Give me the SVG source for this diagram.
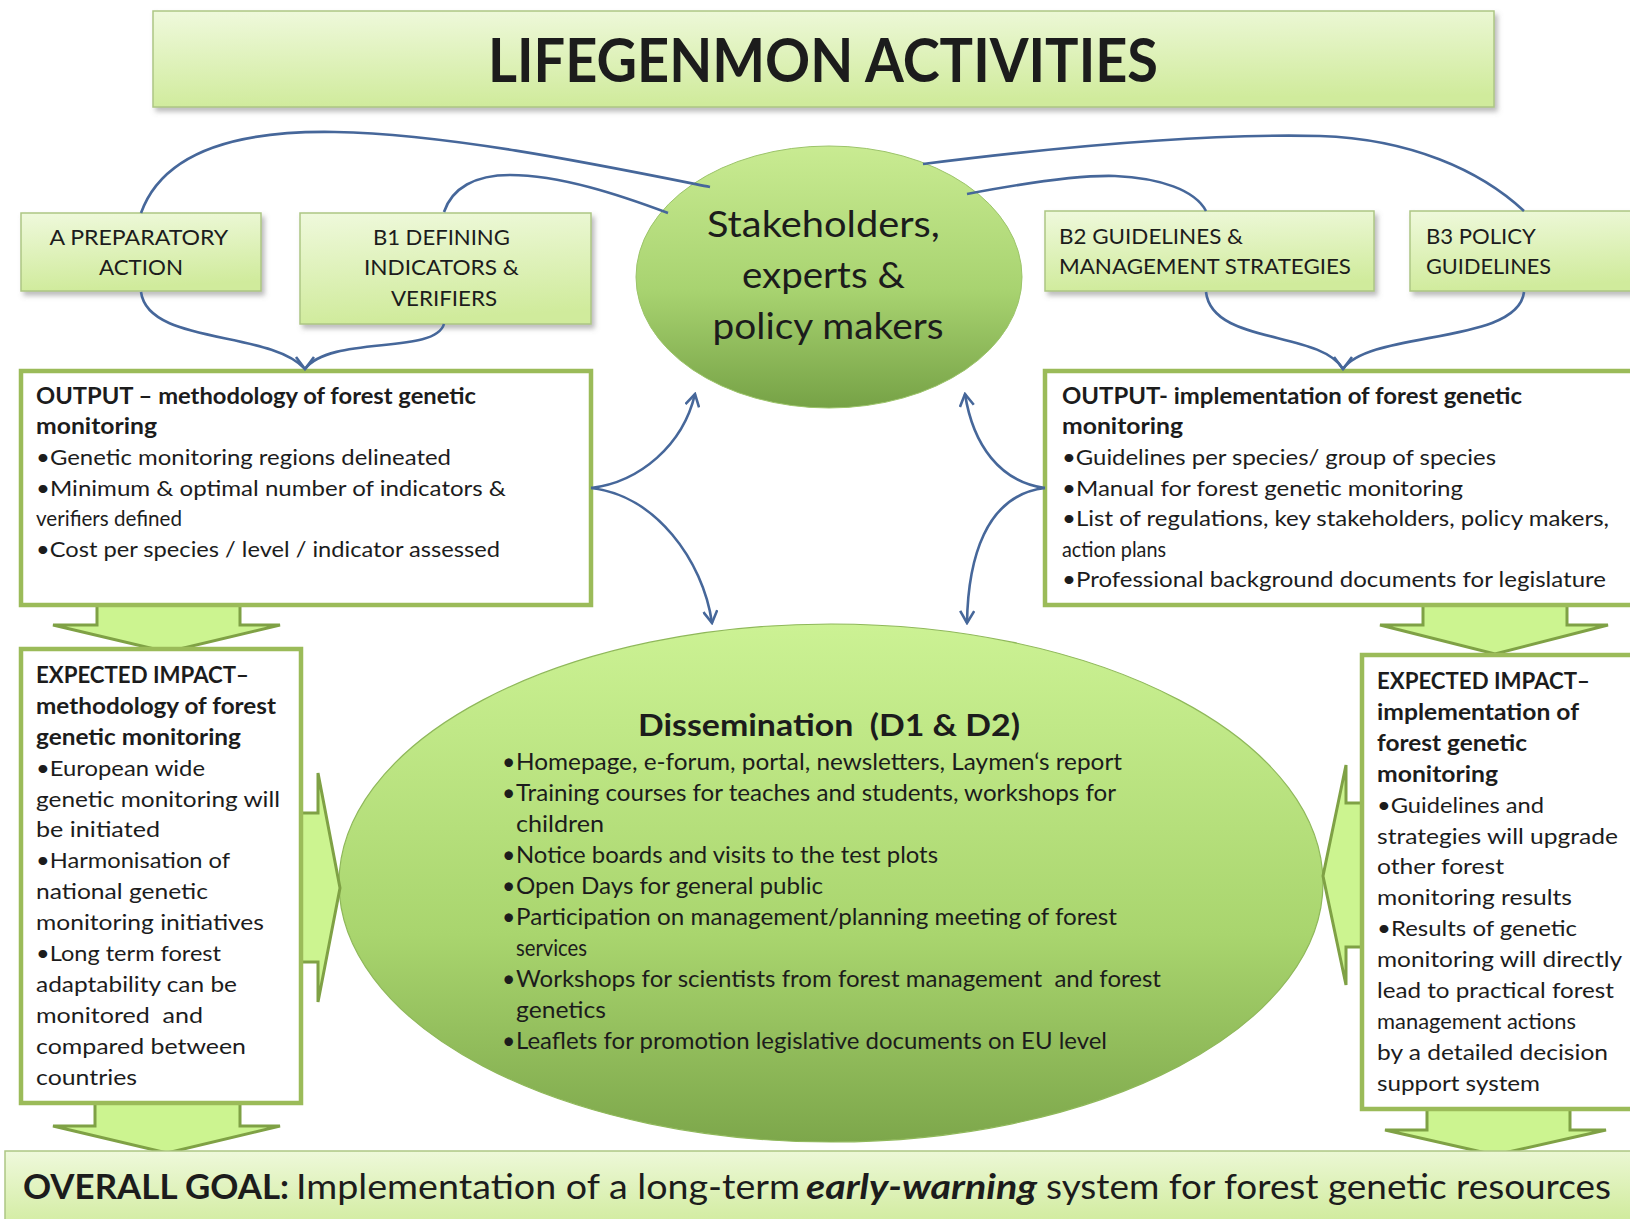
<svg xmlns="http://www.w3.org/2000/svg" width="1630" height="1219" viewBox="0 0 1630 1219">
<defs>
  <linearGradient id="gBox" x1="0" y1="0" x2="0.15" y2="1">
    <stop offset="0" stop-color="#eff9dc"/>
    <stop offset="1" stop-color="#d0eb9c"/>
  </linearGradient>
  <linearGradient id="gStake" x1="0" y1="0" x2="0" y2="1">
    <stop offset="0" stop-color="#c9eb92"/>
    <stop offset="0.55" stop-color="#a8d370"/>
    <stop offset="1" stop-color="#76a246"/>
  </linearGradient>
  <linearGradient id="gDiss" x1="0" y1="0" x2="0" y2="1">
    <stop offset="0" stop-color="#ccf294"/>
    <stop offset="0.6" stop-color="#a9d56e"/>
    <stop offset="1" stop-color="#7da74b"/>
  </linearGradient>
  <filter id="sh" x="-5%" y="-10%" width="115%" height="135%">
    <feDropShadow dx="3" dy="4" stdDeviation="2.5" flood-color="#7a7a7a" flood-opacity="0.5"/>
  </filter>
  <marker id="ah" viewBox="0 0 16 16" refX="14" refY="8" markerWidth="16" markerHeight="16" markerUnits="userSpaceOnUse" orient="auto">
    <path d="M2,1 L14,8 L2,15" fill="none" stroke="#46679a" stroke-width="2.6"/>
  </marker>
</defs>
<style>
  .t{font-family:Lato,'Open Sans','Liberation Sans',sans-serif;fill:#1c1c1c}
  .b{font-weight:bold}
  .lbl{font-size:20.5px}
  .body{font-size:22px}
  .dis{font-size:23px}
  .con{fill:none;stroke:#46679a;stroke-width:2.6}
  .lb{fill:url(#gBox);stroke:#adc684;stroke-width:1.5}
  .wb{fill:#fff;stroke:#9bbb59;stroke-width:4.5}
  .blk{fill:#ccf490;stroke:#7fa145;stroke-width:3;stroke-linejoin:miter}
</style>
<rect width="1630" height="1219" fill="#ffffff"/>

<g id="title">
  <rect x="153" y="11" width="1341" height="96" class="lb" filter="url(#sh)"/>
  <text x="823" y="82" text-anchor="middle" class="t b" font-size="62" textLength="670" lengthAdjust="spacingAndGlyphs">LIFEGENMON ACTIVITIES</text>
</g>

<g id="stakeholders">
  <ellipse cx="829" cy="277" rx="193" ry="131" fill="url(#gStake)" stroke="#9cc46a" stroke-width="1"/>
  <text class="t" font-size="36" text-anchor="middle">
    <tspan x="828" y="237" textLength="233" lengthAdjust="spacingAndGlyphs">Stakeholders,</tspan>
    <tspan x="828" y="288" textLength="163" lengthAdjust="spacingAndGlyphs">experts &amp;</tspan>
    <tspan x="828" y="339" textLength="231" lengthAdjust="spacingAndGlyphs">policy makers</tspan>
  </text>
</g>

<g id="dissemination">
  <ellipse cx="831" cy="883" rx="492" ry="259" fill="url(#gDiss)" stroke="#8fb85a" stroke-width="1.2"/>
  <text x="829" y="736" text-anchor="middle" class="t b" font-size="31" textLength="382" lengthAdjust="spacingAndGlyphs" xml:space="preserve">Dissemination  (D1 &amp; D2)</text>
  <g class="t dis">
    <text x="502" y="770">•</text><text x="516" y="770" textLength="606" lengthAdjust="spacingAndGlyphs">Homepage, e-forum, portal, newsletters, Laymen‘s report</text>
    <text x="502" y="801">•</text><text x="516" y="801" textLength="600" lengthAdjust="spacingAndGlyphs">Training courses for teaches and students, workshops for</text>
    <text x="516" y="832" textLength="88" lengthAdjust="spacingAndGlyphs">children</text>
    <text x="502" y="863">•</text><text x="516" y="863" textLength="422" lengthAdjust="spacingAndGlyphs">Notice boards and visits to the test plots</text>
    <text x="502" y="894">•</text><text x="516" y="894" textLength="307" lengthAdjust="spacingAndGlyphs">Open Days for general public</text>
    <text x="502" y="925">•</text><text x="516" y="925" textLength="601" lengthAdjust="spacingAndGlyphs">Participation on management/planning meeting of forest</text>
    <text x="516" y="956" textLength="71" lengthAdjust="spacingAndGlyphs">services</text>
    <text x="502" y="987">•</text><text x="516" y="987" textLength="645" lengthAdjust="spacingAndGlyphs" xml:space="preserve">Workshops for scientists from forest management  and forest</text>
    <text x="516" y="1018" textLength="90" lengthAdjust="spacingAndGlyphs">genetics</text>
    <text x="502" y="1049">•</text><text x="516" y="1049" textLength="591" lengthAdjust="spacingAndGlyphs">Leaflets for promotion legislative documents on EU level</text>
  </g>
</g>

<g id="block-arrows">
  <path class="blk" d="M97,603 L240,603 L240,625 L280,625 L167,652 L53,625 L97,625 Z"/>
  <path class="blk" d="M1423,603 L1567,603 L1567,625 L1608,625 L1495,654 L1380,625 L1423,625 Z"/>
  <path class="blk" d="M95,1101 L240,1101 L240,1126 L280,1126 L167,1153 L53,1126 L95,1126 Z"/>
  <path class="blk" d="M1427,1108 L1570,1108 L1570,1130 L1606,1130 L1495,1155 L1385,1130 L1427,1130 Z"/>
  <path class="blk" d="M300,813 L318,813 L318,773 L340,888 L318,1002 L318,962 L300,962 Z"/>
  <path class="blk" d="M1364,803 L1346,803 L1346,765 L1323,876 L1346,985 L1346,947 L1364,947 Z"/>
</g>

<g id="a-preparatory">
  <rect x="21" y="213" width="240" height="78" class="lb" filter="url(#sh)"/>
  <text class="t lbl" text-anchor="middle">
    <tspan x="141" y="245" textLength="178" lengthAdjust="spacingAndGlyphs">A PREPARATORY</tspan>
    <tspan x="141" y="275" textLength="84" lengthAdjust="spacingAndGlyphs">ACTION</tspan>
  </text>
</g>

<g id="b1-defining">
  <rect x="300" y="213" width="291" height="111" class="lb" filter="url(#sh)"/>
  <text class="t lbl" text-anchor="middle">
    <tspan x="444" y="245" textLength="137" lengthAdjust="spacingAndGlyphs">B1 DEFINING</tspan>
    <tspan x="444" y="275" textLength="155" lengthAdjust="spacingAndGlyphs">INDICATORS &amp;</tspan>
    <tspan x="444" y="306" textLength="106" lengthAdjust="spacingAndGlyphs">VERIFIERS</tspan>
  </text>
</g>

<g id="b2-guidelines">
  <rect x="1045" y="211" width="329" height="80" class="lb" filter="url(#sh)"/>
  <text class="t lbl">
    <tspan x="1059" y="244" textLength="184" lengthAdjust="spacingAndGlyphs">B2 GUIDELINES &amp;</tspan>
    <tspan x="1059" y="274" textLength="292" lengthAdjust="spacingAndGlyphs">MANAGEMENT STRATEGIES</tspan>
  </text>
</g>

<g id="b3-policy">
  <rect x="1410" y="211" width="240" height="80" class="lb" filter="url(#sh)"/>
  <text class="t lbl">
    <tspan x="1426" y="244" textLength="109" lengthAdjust="spacingAndGlyphs">B3 POLICY</tspan>
    <tspan x="1426" y="274" textLength="125" lengthAdjust="spacingAndGlyphs">GUIDELINES</tspan>
  </text>
</g>

<g id="output-left">
  <rect x="21" y="371" width="570" height="234" class="wb"/>
  <g class="t body">
    <text x="36" y="404" class="b" textLength="440" lengthAdjust="spacingAndGlyphs">OUTPUT – methodology of forest genetic</text>
    <text x="36" y="434" class="b" textLength="121" lengthAdjust="spacingAndGlyphs">monitoring</text>
    <text x="36" y="465" textLength="415" lengthAdjust="spacingAndGlyphs">•Genetic monitoring regions delineated</text>
    <text x="36" y="496" textLength="470" lengthAdjust="spacingAndGlyphs">•Minimum &amp; optimal number of indicators &amp;</text>
    <text x="36" y="526" textLength="146" lengthAdjust="spacingAndGlyphs">verifiers defined</text>
    <text x="36" y="557" textLength="464" lengthAdjust="spacingAndGlyphs">•Cost per species / level / indicator assessed</text>
  </g>
</g>

<g id="output-right">
  <rect x="1045" y="371" width="605" height="234" class="wb"/>
  <g class="t body">
    <text x="1062" y="404" class="b" textLength="460" lengthAdjust="spacingAndGlyphs">OUTPUT- implementation of forest genetic</text>
    <text x="1062" y="434" class="b" textLength="121" lengthAdjust="spacingAndGlyphs">monitoring</text>
    <text x="1062" y="465" textLength="434" lengthAdjust="spacingAndGlyphs">•Guidelines per species/ group of species</text>
    <text x="1062" y="496" textLength="401" lengthAdjust="spacingAndGlyphs">•Manual for forest genetic monitoring</text>
    <text x="1062" y="526" textLength="547" lengthAdjust="spacingAndGlyphs">•List of regulations, key stakeholders, policy makers,</text>
    <text x="1062" y="557" textLength="104" lengthAdjust="spacingAndGlyphs">action plans</text>
    <text x="1062" y="587" textLength="544" lengthAdjust="spacingAndGlyphs">•Professional background documents for legislature</text>
  </g>
</g>

<g id="impact-left">
  <rect x="21" y="649" width="280" height="454" class="wb"/>
  <g class="t body">
    <text x="36" y="683" class="b" textLength="213" lengthAdjust="spacingAndGlyphs">EXPECTED IMPACT–</text>
    <text x="36" y="714" class="b" textLength="240" lengthAdjust="spacingAndGlyphs">methodology of forest</text>
    <text x="36" y="745" class="b" textLength="205" lengthAdjust="spacingAndGlyphs">genetic monitoring</text>
    <text x="36" y="776" textLength="169" lengthAdjust="spacingAndGlyphs">•European wide</text>
    <text x="36" y="807" textLength="244" lengthAdjust="spacingAndGlyphs">genetic monitoring will</text>
    <text x="36" y="837" textLength="124" lengthAdjust="spacingAndGlyphs">be initiated</text>
    <text x="36" y="868" textLength="194" lengthAdjust="spacingAndGlyphs">•Harmonisation of</text>
    <text x="36" y="899" textLength="172" lengthAdjust="spacingAndGlyphs">national genetic</text>
    <text x="36" y="930" textLength="228" lengthAdjust="spacingAndGlyphs">monitoring initiatives</text>
    <text x="36" y="961" textLength="185" lengthAdjust="spacingAndGlyphs">•Long term forest</text>
    <text x="36" y="992" textLength="201" lengthAdjust="spacingAndGlyphs">adaptability can be</text>
    <text x="36" y="1023" textLength="167" lengthAdjust="spacingAndGlyphs" xml:space="preserve">monitored  and</text>
    <text x="36" y="1054" textLength="210" lengthAdjust="spacingAndGlyphs">compared between</text>
    <text x="36" y="1085" textLength="101" lengthAdjust="spacingAndGlyphs">countries</text>
  </g>
</g>

<g id="impact-right">
  <rect x="1362" y="655" width="290" height="454" class="wb"/>
  <g class="t body">
    <text x="1377" y="689" class="b" textLength="213" lengthAdjust="spacingAndGlyphs">EXPECTED IMPACT–</text>
    <text x="1377" y="720" class="b" textLength="202" lengthAdjust="spacingAndGlyphs">implementation of</text>
    <text x="1377" y="751" class="b" textLength="150" lengthAdjust="spacingAndGlyphs">forest genetic</text>
    <text x="1377" y="782" class="b" textLength="121" lengthAdjust="spacingAndGlyphs">monitoring</text>
    <text x="1377" y="813" textLength="167" lengthAdjust="spacingAndGlyphs">•Guidelines and</text>
    <text x="1377" y="844" textLength="241" lengthAdjust="spacingAndGlyphs">strategies will upgrade</text>
    <text x="1377" y="874" textLength="127" lengthAdjust="spacingAndGlyphs">other forest</text>
    <text x="1377" y="905" textLength="195" lengthAdjust="spacingAndGlyphs">monitoring results</text>
    <text x="1377" y="936" textLength="200" lengthAdjust="spacingAndGlyphs">•Results of genetic</text>
    <text x="1377" y="967" textLength="245" lengthAdjust="spacingAndGlyphs">monitoring will directly</text>
    <text x="1377" y="998" textLength="237" lengthAdjust="spacingAndGlyphs">lead to practical forest</text>
    <text x="1377" y="1029" textLength="199" lengthAdjust="spacingAndGlyphs">management actions</text>
    <text x="1377" y="1060" textLength="231" lengthAdjust="spacingAndGlyphs">by a detailed decision</text>
    <text x="1377" y="1091" textLength="163" lengthAdjust="spacingAndGlyphs">support system</text>
  </g>
</g>

<g id="overall-goal">
  <rect x="5" y="1151" width="1650" height="80" class="lb"/>
  <g class="t" font-size="35">
    <text x="23" y="1199" class="b" textLength="266" lengthAdjust="spacingAndGlyphs">OVERALL GOAL:</text>
    <text x="296" y="1199" textLength="504" lengthAdjust="spacingAndGlyphs">Implementation of a long-term</text>
    <text x="806" y="1199" class="b" font-style="italic" textLength="231" lengthAdjust="spacingAndGlyphs">early-warning</text>
    <text x="1046" y="1199" textLength="565" lengthAdjust="spacingAndGlyphs">system for forest genetic resources</text>
  </g>
</g>

<g id="connectors">
  <path class="con" d="M141,213 C160,160 220,130 335,132 C450,134 600,165 710,187"/>
  <path class="con" d="M444,212 C452,188 475,175 510,175 C560,175 620,195 668,213"/>
  <path class="con" d="M967,194 C1030,182 1080,175 1115,176 C1160,178 1195,190 1206,211"/>
  <path class="con" d="M923,164 C1050,148 1200,133 1320,136 C1410,139 1480,170 1524,211"/>
  <path class="con" d="M141,292 C148,345 270,330 305,369"/>
  <path class="con" d="M444,324 C435,355 330,335 305,369"/>
  <path class="con" d="M296,357 L305,369 L314,357"/>
  <path class="con" d="M1206,292 C1212,345 1320,330 1343,369"/>
  <path class="con" d="M1524,292 C1518,345 1370,330 1343,369"/>
  <path class="con" d="M1334,357 L1343,369 L1352,357"/>
  <path class="con" marker-end="url(#ah)" d="M591,488 C640,482 683,445 695,394"/>
  <path class="con" marker-end="url(#ah)" d="M591,488 C655,495 703,560 712,623"/>
  <path class="con" marker-end="url(#ah)" d="M1045,488 C1000,482 973,445 965,394"/>
  <path class="con" marker-end="url(#ah)" d="M1045,488 C985,495 968,560 967,623"/>
</g>
</svg>
